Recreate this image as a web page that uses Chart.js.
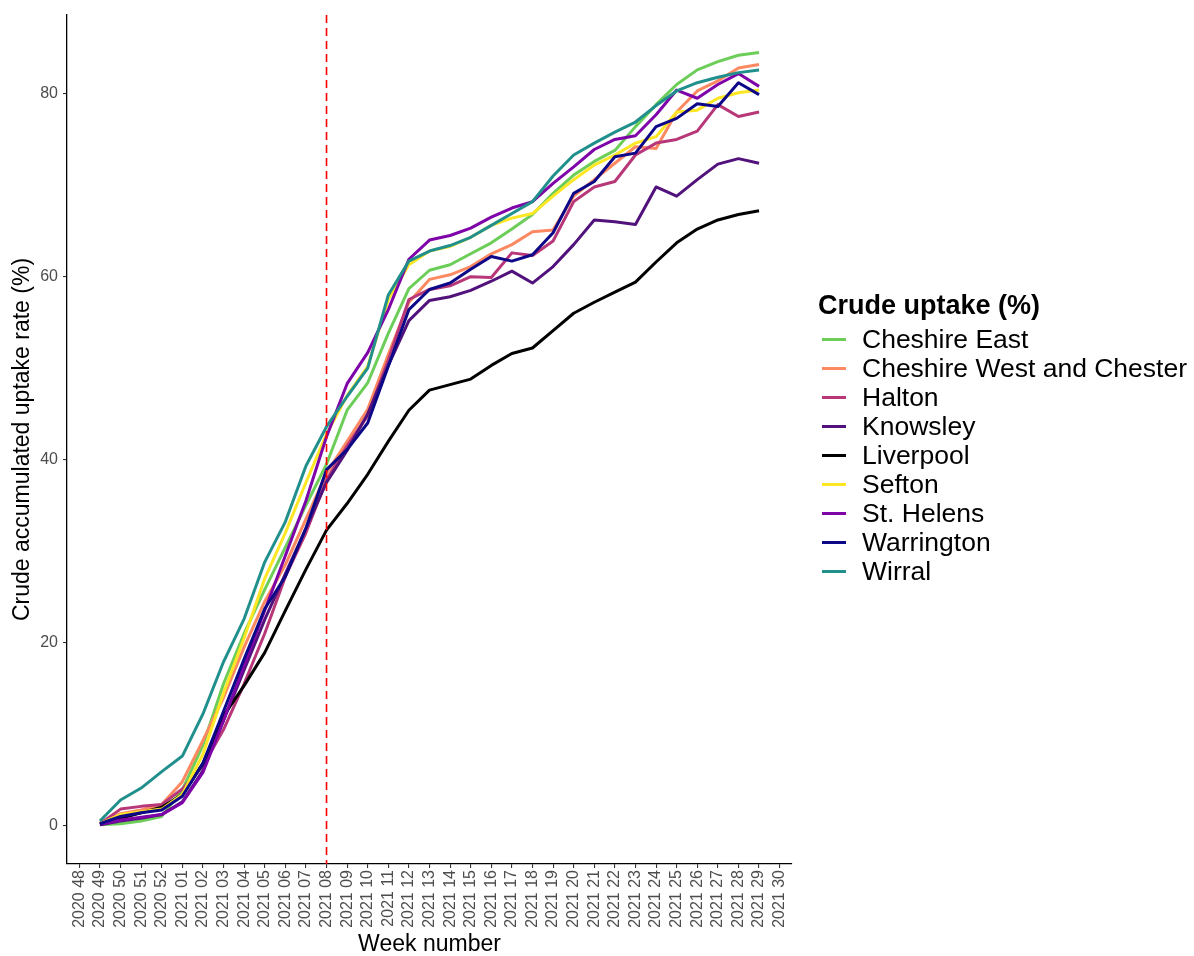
<!DOCTYPE html>
<html>
<head>
<meta charset="utf-8">
<script src="https://cdn.jsdelivr.net/npm/chart.js@4/dist/chart.umd.min.js"></script>
<style>
  html, body { margin: 0; padding: 0; background: #fff; }
  #wrap { position: relative; width: 1194px; height: 956px; }
  #chart { position: absolute; left: 0; top: 0; }
  #legend { position: absolute; left: 818px; top: 287px; font-family: "Liberation Sans", Arial, sans-serif; color: #000; }
  #legend .title { font-weight: bold; font-size: 27px; height: 38px; line-height: 36px; }
  #legend .row { height: 29px; line-height: 29px; font-size: 26.5px; white-space: nowrap; display: flex; align-items: center; }
  #legend .key { width: 24px; height: 3px; margin-left: 4px; margin-right: 16px; }
</style>
</head>
<body>
<div id="wrap">
  <canvas id="chart" width="1194" height="956"></canvas>
  <div id="legend"></div>
</div>
<script>
// Week labels on the x axis (ISO year + week)
const weeks = ["2020 48","2020 49","2020 50","2020 51","2020 52",
  "2021 01","2021 02","2021 03","2021 04","2021 05","2021 06","2021 07","2021 08","2021 09","2021 10",
  "2021 11","2021 12","2021 13","2021 14","2021 15","2021 16","2021 17","2021 18","2021 19","2021 20",
  "2021 21","2021 22","2021 23","2021 24","2021 25","2021 26","2021 27","2021 28","2021 29","2021 30"];

// Weeks with reported values (2020 49 .. 2021 29)
const dataWeeks = weeks.slice(1, 34);

// Reference week marked with the dashed line
const markerWeek = "2021 08";

const yTicks = [0, 20, 40, 60, 80];

// Cumulative crude uptake (%) per local authority
const cheshireEast = [0.1,0.2,0.5,1.0,3.9,8.8,15.5,21.0,25.8,30.4,35.0,39.5,45.4,48.4,53.8,58.7,60.7,61.3,62.5,63.7,65.2,66.8,69.1,71.1,72.6,73.8,76.4,78.8,81.0,82.6,83.5,84.2,84.5];
const cheshireWest = [0.3,1.3,1.7,2.3,4.8,9.3,14.0,19.5,24.5,28.5,33.5,38.5,42.0,45.5,51.5,57.2,59.7,60.2,61.1,62.5,63.5,64.9,65.1,68.8,70.6,72.4,74.2,74.0,78.0,80.3,81.4,82.8,83.2];
const halton       = [0.2,1.8,2.1,2.3,4.0,6.5,10.5,15.5,21.0,27.2,32.0,37.8,41.5,44.8,50.9,57.5,58.6,59.0,60.0,59.9,62.6,62.3,63.9,68.2,69.8,70.4,73.3,74.6,75.0,75.9,78.8,77.5,78.0];
const knowsley     = [0.1,0.5,0.8,1.2,2.6,6.0,11.5,17.0,22.5,27.5,32.5,37.5,41.0,45.0,50.3,55.2,57.4,57.8,58.5,59.5,60.6,59.3,61.1,63.5,66.2,66.0,65.7,69.8,68.8,70.6,72.3,72.9,72.4];
const liverpool    = [0.1,0.8,1.4,2.0,3.4,6.8,12.0,15.3,18.9,23.5,28.0,32.3,35.2,38.4,42.0,45.4,47.6,48.2,48.8,50.3,51.6,52.2,54.1,56.0,57.2,58.3,59.4,61.6,63.7,65.2,66.2,66.8,67.2];
const sefton       = [0.2,1.2,1.5,1.8,3.4,7.8,14.5,20.5,27.0,32.0,37.5,42.8,47.0,50.2,57.5,61.3,62.8,63.3,64.3,65.6,66.4,66.9,68.8,70.6,72.2,73.3,74.6,75.3,78.0,78.2,79.5,80.1,80.4];
const stHelens     = [0.1,0.6,0.9,1.2,2.5,5.8,11.5,17.5,23.5,29.5,35.5,42.5,48.3,51.7,56.4,61.9,64.0,64.5,65.3,66.5,67.5,68.2,70.2,72.0,73.9,75.0,75.4,77.7,80.4,79.5,81.0,82.2,80.8];
const warrington   = [0.2,1.0,1.4,1.7,3.2,6.8,12.5,18.2,23.7,27.2,32.5,38.9,41.1,44.0,50.2,56.4,58.6,59.3,60.8,62.2,61.7,62.4,64.8,69.1,70.4,73.1,73.5,76.4,77.3,78.9,78.6,81.2,79.9];
const wirral       = [0.5,2.8,4.1,5.9,7.6,12.2,17.9,22.6,28.8,33.2,39.3,43.6,46.9,50.0,58.0,61.7,62.8,63.4,64.3,65.6,66.9,68.2,71.0,73.3,74.6,75.8,76.9,78.7,80.3,81.2,81.8,82.3,82.6];

const areaNames = ["Cheshire East","Cheshire West and Chester","Halton","Knowsley","Liverpool","Sefton","St. Helens","Warrington","Wirral"];
const areaValues = [cheshireEast, cheshireWest, halton, knowsley, liverpool, sefton, stHelens, warrington, wirral];
const areaColors = ["#6CCE59","#FC8961","#B73779","#51127C","#000000","#FDE725","#7E03A8","#0D0887","#21908C"];

const FONT = "'Liberation Sans', Arial, sans-serif";

const datasets = areaNames.map((name, k) => ({
  label: name,
  data: areaValues[k].map((v, i) => ({ x: weeks.indexOf(dataWeeks[i]), y: v })),
  borderColor: areaColors[k],
  backgroundColor: areaColors[k],
  borderWidth: 3,
  pointRadius: 0,
  tension: 0,
  fill: false,
  borderJoinStyle: 'round',
  order: areaNames.length - k   // later areas drawn on top
}));

// Dashed vertical marker at the reference week
const markerLine = {
  id: 'markerLine',
  afterDatasetsDraw(chart) {
    const { ctx, chartArea, scales } = chart;
    const x = scales.x.getPixelForValue(weeks.indexOf(markerWeek));
    ctx.save();
    ctx.strokeStyle = '#FF0000';
    ctx.lineWidth = 1.6;
    ctx.setLineDash([8, 5]);
    ctx.beginPath();
    ctx.moveTo(x, chartArea.top);
    ctx.lineTo(x, chartArea.bottom);
    ctx.stroke();
    ctx.restore();
  }
};

new Chart(document.getElementById('chart'), {
  type: 'line',
  data: { datasets },
  plugins: [markerLine],
  options: {
    responsive: false,
    animation: false,
    devicePixelRatio: 1,
    layout: { padding: { left: 0, right: 402, top: 15, bottom: 0 } },
    plugins: { legend: { display: false }, tooltip: { enabled: false } },
    scales: {
      x: {
        type: 'linear',
        min: -0.6,
        max: weeks.length - 1 + 0.6,
        afterBuildTicks(scale) { scale.ticks = weeks.map((w, i) => ({ value: i })); },
        afterFit(scale) { scale.height = 92; },
        ticks: {
          autoSkip: false,
          minRotation: 90,
          maxRotation: 90,
          padding: 2,
          color: '#4D4D4D',
          font: { family: FONT, size: 16 },
          callback: (v) => weeks[v]
        },
        grid: { drawOnChartArea: false, drawTicks: true, tickLength: 4, color: '#333333', lineWidth: 1.1 },
        border: { display: true, color: '#000000', width: 1.3 },
        title: {
          display: true, text: 'Week number', color: '#000000',
          font: { family: FONT, size: 23, lineHeight: 1 },
          padding: { top: 0, bottom: 0 }
        }
      },
      y: {
        type: 'linear',
        min: -4.2,
        max: 88.6,
        afterBuildTicks(scale) { scale.ticks = yTicks.map(v => ({ value: v })); },
        afterFit(scale) { scale.width = 67; },
        ticks: {
          padding: 5,
          color: '#4D4D4D',
          font: { family: FONT, size: 16 }
        },
        grid: { drawOnChartArea: false, drawTicks: true, tickLength: 4, color: '#333333', lineWidth: 1.1 },
        border: { display: true, color: '#000000', width: 1.3 },
        title: {
          display: true, text: 'Crude accumulated uptake rate (%)', color: '#000000',
          font: { family: FONT, size: 23, lineHeight: 1 },
          padding: { top: 11.5, bottom: 0 }
        }
      }
    }
  }
});

// Legend
const legend = document.getElementById('legend');
const title = document.createElement('div');
title.className = 'title';
title.textContent = 'Crude uptake (%)';
legend.appendChild(title);
areaNames.forEach((name, k) => {
  const row = document.createElement('div');
  row.className = 'row';
  const key = document.createElement('span');
  key.className = 'key';
  key.style.background = areaColors[k];
  const label = document.createElement('span');
  label.textContent = name;
  row.appendChild(key);
  row.appendChild(label);
  legend.appendChild(row);
});
</script>
</body>
</html>
